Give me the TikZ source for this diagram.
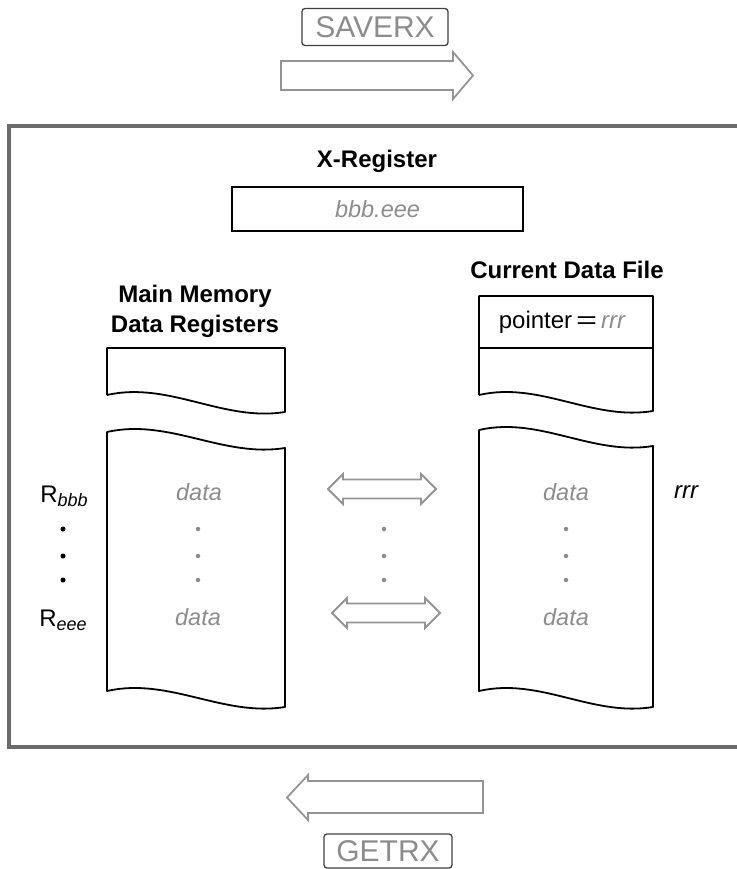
\documentclass[tikz,border=0pt]{standalone}
\usepackage{fontspec}
\setmainfont{Liberation Sans}
\usetikzlibrary{positioning}
\definecolor{framegray}{gray}{0.42}
\definecolor{textgray}{gray}{0.55}
\definecolor{arrowgray}{gray}{0.58}
\definecolor{boxline}{gray}{0.25}

\begin{document}
\begin{tikzpicture}[
    x=1pt, y=-1pt,
    title/.style={font=\fontsize{24}{30}\selectfont\bfseries, align=center},
    cmdbox/.style={draw=boxline, rounded corners=3pt, line width=1.3pt,
                   text=textgray, font=\fontsize{30}{32}\selectfont, inner sep=0pt},
    regbox/.style={draw, line width=1.6pt, inner sep=0pt},
    datatext/.style={text=textgray, font=\fontsize{23.5}{26}\selectfont\itshape},
    regtext/.style={font=\fontsize{24}{26}\selectfont},
    column/.style={draw, line width=1.8pt, line join=round},
    blockarrow/.style={draw=arrowgray, line width=1.8pt, line join=miter},
    regdot/.style={circle, fill, inner sep=0pt, minimum size=5pt},
]
\useasboundingbox (0,0) rectangle (736,869);

% Outer frame
\draw[framegray, line width=4pt] (9,126) rectangle (742,747);

% SAVERX on top
\node[cmdbox, minimum width=146pt, minimum height=37pt] (saverx) at (375,27) {SAVERX};
\draw[blockarrow] (281,61) -- (453,61) -- (453,52) -- (473,75.5)
    -- (453,99) -- (453,90) -- (281,90) -- cycle;

% X-Register
\node[title] (xtitle) at (377,161) {X-Register};
\node[regbox, minimum width=291pt, minimum height=44pt] (xreg) at (377.5,209)
    {\fontsize{23.5}{26}\selectfont\itshape\color{textgray}bbb.eee};

% Main memory column
\node[title] (mmtitle) at (195,311) {Main Memory\\Data Registers};
\draw[column] (107,395) -- (107,348) -- (285,348) -- (285,412)
    .. controls +(-62,10) and +(62,-14) .. (107,395);
\draw[column] (107,432) .. controls +(62,-14) and +(-62,10) .. (285,448)
    -- (285,707) .. controls +(-62,10) and +(62,-14) .. (107,691) -- cycle;

% Current data file column
\node[title] (cftitle) at (567,270) {Current Data File};
\draw[column] (479,395) -- (479,296) -- (653,296) -- (653,411)
    .. controls +(-61,10) and +(61,-14) .. (479,395);
\draw[column] (479,348) -- (653,348);
\node[regtext] (pointer) at (562,322)
    {pointer\,\scalebox{1.5}[1]{=}\,{\color{textgray}\itshape rrr}};
\draw[column] (479,430) .. controls +(61,-14) and +(-61,10) .. (653,446)
    -- (653,707) .. controls +(-61,10) and +(61,-14) .. (479,691) -- cycle;

% Register names
\node[regtext] (rbbb) at (64,496) {R\raisebox{-4pt}{\fontsize{18}{18}\selectfont\itshape bbb}};
\node[regtext] (reee) at (63,620) {R\raisebox{-4pt}{\fontsize{18}{18}\selectfont\itshape eee}};
\node[regtext] (rrr) at (686,492) {\itshape rrr};

% Data entries
\node[datatext] (mmfirst) at (199,492) {data};
\node[datatext] (mmlast) at (198,617) {data};
\node[datatext] (cffirst) at (566,492) {data};
\node[datatext] (cflast) at (566,617) {data};

% Dots
\foreach \yy in {529,556,580} {
    \node[regdot] (ldot\yy) at (63,\yy) {};
    \node[regdot, textgray, minimum size=4.5pt] (mmdot\yy) at (198,\yy) {};
    \node[regdot, textgray, minimum size=4.5pt] (midot\yy) at (384,\yy) {};
    \node[regdot, textgray, minimum size=4.5pt] (cfdot\yy) at (566,\yy) {};
}

% Exchange arrows
\draw[blockarrow] (328,489) -- ++(15,-15) -- ++(0,5.5) -- ++(78,0) -- ++(0,-5.5)
    -- ++(15,15) -- ++(-15,15) -- ++(0,-5.5) -- ++(-78,0) -- ++(0,5.5) -- cycle;
\draw[blockarrow] (332,613) -- ++(15,-15) -- ++(0,5.5) -- ++(78,0) -- ++(0,-5.5)
    -- ++(15,15) -- ++(-15,15) -- ++(0,-5.5) -- ++(-78,0) -- ++(0,5.5) -- cycle;

% GETRX at bottom
\draw[blockarrow] (483,781) -- (308,781) -- (308,775) -- (287,797.5)
    -- (308,820) -- (308,813) -- (483,813) -- cycle;
\node[cmdbox, minimum width=128pt, minimum height=34pt] (getrx) at (388,851) {GETRX};

\end{tikzpicture}
\end{document}
